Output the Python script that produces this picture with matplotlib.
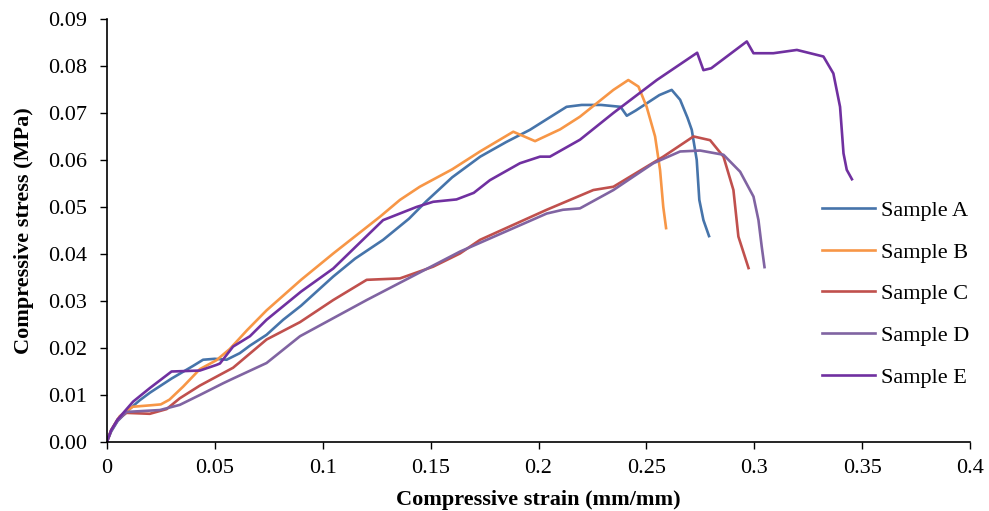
import matplotlib
matplotlib.use("Agg")
import matplotlib.pyplot as plt

plt.rcParams['font.family'] = ['Liberation Serif', 'DejaVu Serif']

# Sample A
a_x = [0, 0.002, 0.005, 0.01, 0.0153, 0.02, 0.03, 0.04, 0.0446, 0.05, 0.0555, 0.0616, 0.0663,
       0.074, 0.0817, 0.09, 0.1049, 0.115, 0.128, 0.14, 0.148, 0.16, 0.173, 0.185, 0.196,
       0.205, 0.213, 0.22, 0.229, 0.238, 0.2409, 0.245, 0.25, 0.256, 0.2617, 0.2656, 0.269,
       0.271, 0.2733, 0.2745, 0.2764, 0.279]
a_y = [0, 0.0022, 0.0045, 0.0068, 0.0089, 0.0105, 0.0135, 0.0162, 0.0175, 0.0177, 0.0175, 0.0189, 0.0205,
       0.0228, 0.026, 0.029, 0.0352, 0.039, 0.043, 0.0475, 0.0512, 0.0563, 0.0607, 0.0638, 0.0664,
       0.069, 0.0713, 0.0717, 0.0717, 0.0713, 0.0694, 0.0705, 0.072, 0.0738, 0.0749, 0.0728, 0.069,
       0.0664, 0.060, 0.0515, 0.0472, 0.0438]

# Sample B
b_x = [0, 0.002, 0.006, 0.012, 0.02, 0.025, 0.029, 0.0354, 0.0431, 0.0508, 0.057, 0.065, 0.074,
       0.09, 0.1049, 0.1265, 0.1358, 0.145, 0.16, 0.1729, 0.1883, 0.1984, 0.2007, 0.21, 0.2192,
       0.2347, 0.2416, 0.2463, 0.2501, 0.254, 0.2563, 0.2578, 0.2591]
b_y = [0, 0.0025, 0.0055, 0.0075, 0.0078, 0.008, 0.009, 0.0118, 0.0155, 0.0174, 0.0198, 0.0238, 0.028,
       0.0345, 0.0401, 0.0479, 0.0515, 0.0543, 0.058, 0.0618, 0.066, 0.064, 0.0645, 0.0665, 0.0692,
       0.0749, 0.077, 0.0756, 0.0713, 0.065, 0.0579, 0.050, 0.0455]

# Sample C
c_x = [0, 0.002, 0.005, 0.0091, 0.0199, 0.0277, 0.0338, 0.0431, 0.0585, 0.074, 0.0895, 0.1049,
       0.1204, 0.1358, 0.1512, 0.1636, 0.1729, 0.2038, 0.2254, 0.2347, 0.2578, 0.2718, 0.2795,
       0.2857, 0.2903, 0.2926, 0.2973]
c_y = [0, 0.0025, 0.0048, 0.0062, 0.006, 0.007, 0.0093, 0.012, 0.0158, 0.0218, 0.0255, 0.0302,
       0.0345, 0.0348, 0.0373, 0.0401, 0.043, 0.0494, 0.0536, 0.0543, 0.0607, 0.065, 0.0642,
       0.0607, 0.0536, 0.0437, 0.037]

# Sample D
d_x = [0, 0.002, 0.005, 0.0091, 0.0246, 0.0338, 0.0431, 0.0539, 0.0585, 0.074, 0.0895, 0.1204,
       0.1636, 0.2038, 0.2113, 0.2192, 0.2347, 0.2532, 0.2656, 0.2749, 0.2857, 0.2934, 0.2996,
       0.3019, 0.3034, 0.3047]
d_y = [0, 0.0024, 0.0045, 0.0064, 0.0068, 0.0079, 0.010, 0.0125, 0.0135, 0.0168, 0.0225, 0.0302,
       0.0405, 0.0486, 0.0494, 0.0497, 0.0536, 0.0593, 0.0618, 0.062, 0.0611, 0.0575, 0.0522,
       0.0472, 0.0416, 0.0372]

# Sample E
e_x = [0, 0.002, 0.005, 0.0122, 0.02, 0.03, 0.0431, 0.0508, 0.0524, 0.0585, 0.0663, 0.074, 0.09,
       0.1049, 0.128, 0.1435, 0.1512, 0.162, 0.17, 0.1775, 0.1914, 0.2007, 0.2053, 0.2192, 0.2347,
       0.2548, 0.2735, 0.2764, 0.28, 0.2965, 0.2996, 0.3088, 0.3197, 0.332, 0.3366, 0.3397,
       0.3413, 0.3428, 0.3452]
e_y = [0, 0.0025, 0.0048, 0.0086, 0.0115, 0.015, 0.0152, 0.0164, 0.0167, 0.0203, 0.0225, 0.026, 0.032,
       0.0369, 0.0472, 0.050, 0.0511, 0.0516, 0.053, 0.0557, 0.0593, 0.0607, 0.0607, 0.0643, 0.070,
       0.077, 0.0828, 0.0791, 0.0795, 0.0852, 0.0827, 0.0827, 0.0834, 0.082, 0.0784, 0.0713,
       0.0614, 0.0579, 0.0559]

labels = ['Sample A', 'Sample B', 'Sample C', 'Sample D', 'Sample E']
colors = ['#4674AA', '#F79646', '#C0504D', '#8064A2', '#7030A0']
series = [(a_x, a_y), (b_x, b_y), (c_x, c_y), (d_x, d_y), (e_x, e_y)]

fig = plt.figure(figsize=(9.89, 5.11), dpi=100)
ax = fig.add_axes([0.108, 0.135, 0.873, 0.828])

for (xs, ys), lab, col in zip(series, labels, colors):
    ax.plot(xs, ys, color=col, lw=1.9, label=lab)

ax.set_xlim(0, 0.4)
ax.set_ylim(0, 0.09)
ax.set_xticks([0, 0.05, 0.1, 0.15, 0.2, 0.25, 0.3, 0.35, 0.4])
ax.set_xticklabels(['0', '0.05', '0.1', '0.15', '0.2', '0.25', '0.3', '0.35', '0.4'])
ax.set_yticks([i * 0.01 for i in range(10)])
ax.set_yticklabels(['%.2f' % (i * 0.01) for i in range(10)])
ax.tick_params(direction='out', length=5, width=1, labelsize=16)
ax.tick_params(axis='x', pad=7)
ax.tick_params(axis='y', pad=9)
ax.spines['top'].set_visible(False)
ax.spines['right'].set_visible(False)
ax.spines['left'].set_linewidth(1.2)
ax.spines['bottom'].set_linewidth(1.2)

ax.set_xlabel('Compressive strain (mm/mm)', fontsize=16, fontweight='bold', labelpad=9)
ax.set_ylabel('Compressive stress (MPa)', fontsize=16, fontweight='bold', labelpad=10)

ax.legend(loc='center left', bbox_to_anchor=(0.805, 0.35), frameon=False, fontsize=16,
          handlelength=2.4, handletextpad=0.25, labelspacing=0.95)

fig.savefig('out.png', dpi=100)
